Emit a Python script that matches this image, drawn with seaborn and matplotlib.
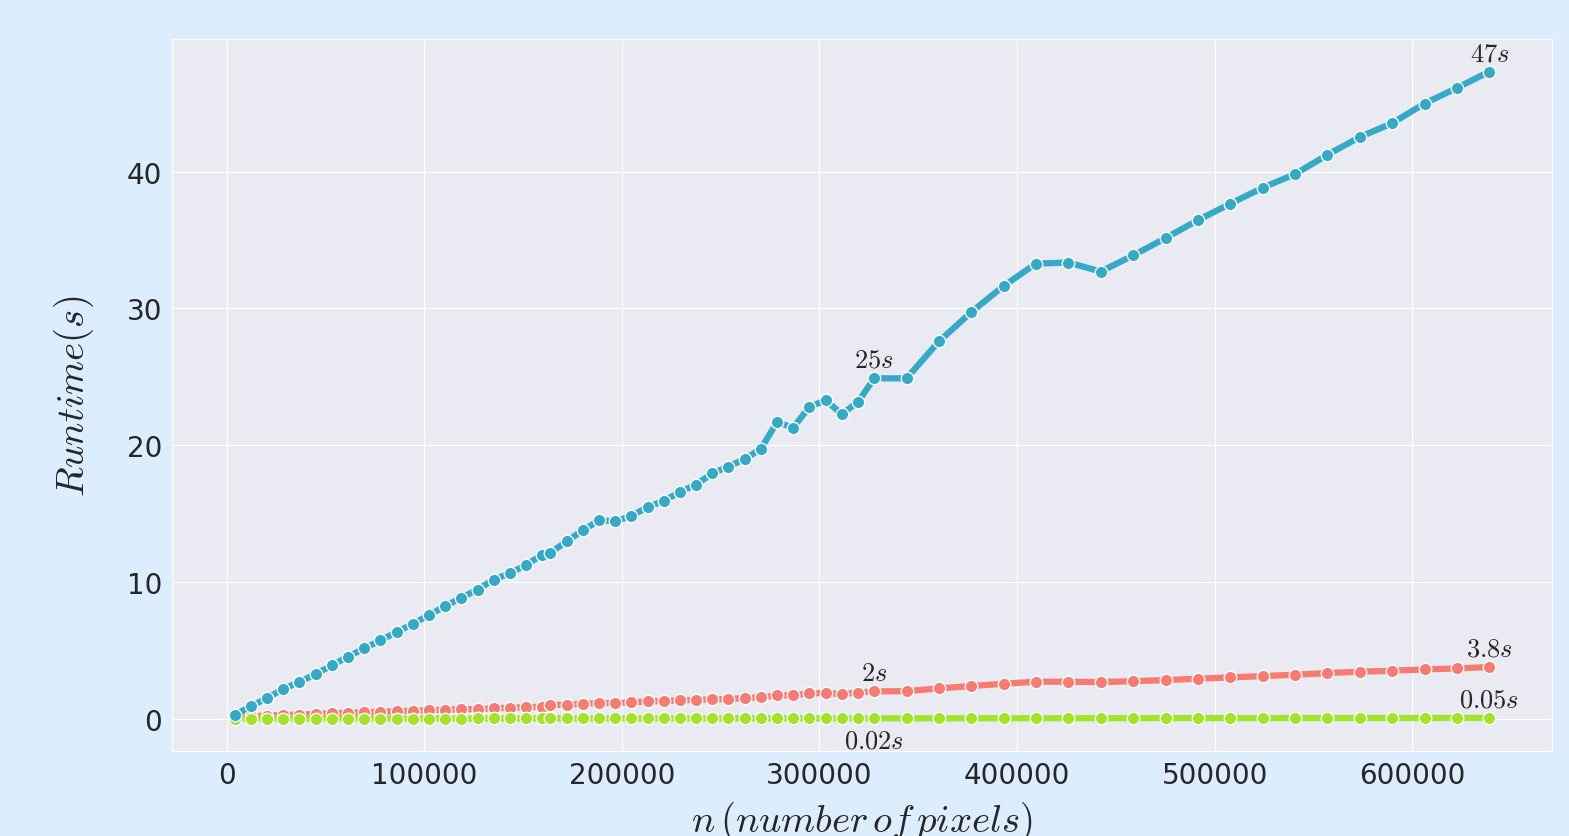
import matplotlib
matplotlib.use("Agg")
import matplotlib.pyplot as plt
import seaborn as sns

# Style
sns.set_style("darkgrid")
plt.rcParams['mathtext.fontset'] = 'cm'

# Colours
fig_bg = '#dcedfd'
blue = '#34aac8'
red = '#f87b72'
green = '#a3e42a'

# Data
n_pixels = [
    4096, 12288, 20480, 28672, 36864, 45056, 53248, 61440, 69632, 77824,
    86016, 94208, 102400, 110592, 118784, 126976, 135168, 143360, 151552, 159744,
    163840, 172032, 180224, 188416, 196608, 204800, 212992, 221184, 229376, 237568,
    245760, 253952, 262144, 270336, 278528, 286720, 294912, 303104, 311296, 319488,
    327680, 344064, 360448, 376832, 393216, 409600, 425984, 442368, 458752, 475136,
    491520, 507904, 524288, 540672, 557056, 573440, 589824, 606208, 622592, 638976,
]

runtime_blue = [
    0.27, 0.90, 1.50, 2.17, 2.68, 3.26, 3.89, 4.53, 5.13, 5.72,
    6.33, 6.93, 7.57, 8.23, 8.83, 9.44, 10.17, 10.63, 11.24, 11.99,
    12.13, 12.96, 13.77, 14.50, 14.43, 14.82, 15.47, 15.93, 16.57, 17.12,
    17.93, 18.44, 18.98, 19.73, 21.68, 21.28, 22.80, 23.28, 22.28, 23.15,
    24.89, 24.89, 27.59, 29.73, 31.65, 33.28, 33.36, 32.70, 33.88, 35.15,
    36.46, 37.66, 38.83, 39.83, 41.24, 42.54, 43.55, 44.99, 46.13, 47.33,
]

runtime_red = [
    0.12, 0.17, 0.22, 0.27, 0.29, 0.34, 0.39, 0.43, 0.46, 0.51,
    0.53, 0.58, 0.61, 0.65, 0.68, 0.70, 0.75, 0.80, 0.83, 0.88,
    0.99, 1.02, 1.07, 1.14, 1.14, 1.19, 1.26, 1.28, 1.34, 1.36,
    1.41, 1.43, 1.50, 1.55, 1.70, 1.70, 1.85, 1.87, 1.80, 1.90,
    1.99, 2.01, 2.21, 2.38, 2.55, 2.70, 2.70, 2.67, 2.74, 2.82,
    2.92, 3.01, 3.11, 3.21, 3.33, 3.43, 3.50, 3.60, 3.67, 3.77,
]

runtime_green = [
    0.000, 0.001, 0.001, 0.002, 0.002, 0.003, 0.003, 0.004, 0.004, 0.005,
    0.005, 0.006, 0.006, 0.007, 0.007, 0.008, 0.008, 0.009, 0.009, 0.010,
    0.010, 0.011, 0.011, 0.012, 0.012, 0.013, 0.013, 0.014, 0.014, 0.015,
    0.015, 0.016, 0.016, 0.017, 0.017, 0.018, 0.018, 0.019, 0.019, 0.020,
    0.020, 0.022, 0.023, 0.025, 0.026, 0.028, 0.029, 0.031, 0.032, 0.034,
    0.035, 0.037, 0.038, 0.040, 0.041, 0.043, 0.044, 0.046, 0.048, 0.050,
]

# Annotated points (middle and last sample of each series)
mid_idx = 40
last_idx = 59
labels_blue = [r'$25s$', r'$47s$']
labels_red = [r'$2s$', r'$3.8s$']
labels_green = [r'$0.02s$', r'$0.05s$']

fig, ax = plt.subplots(figsize=(15.69, 8.37), dpi=100)
fig.patch.set_facecolor(fig_bg)
fig.subplots_adjust(left=0.1096, right=0.9892, top=0.952, bottom=0.1016)

line_kw = dict(marker='o', linewidth=4.5, markersize=9,
               markeredgecolor='white', markeredgewidth=1.0, ax=ax)
sns.lineplot(x=n_pixels, y=runtime_red, color=red, **line_kw)
sns.lineplot(x=n_pixels, y=runtime_green, color=green, **line_kw)
sns.lineplot(x=n_pixels, y=runtime_blue, color=blue, **line_kw)

# Annotations
for series, labels, above in [(runtime_blue, labels_blue, [True, True]),
                              (runtime_red, labels_red, [True, True]),
                              (runtime_green, labels_green, [False, True])]:
    for idx, lab, up in zip([mid_idx, last_idx], labels, above):
        x, y = n_pixels[idx], series[idx]
        if up:
            ax.text(x, y + 0.4, lab, ha='center', va='bottom', fontsize=19)
        else:
            ax.text(x, y - 0.7, lab, ha='center', va='top', fontsize=19)

ax.set_xlabel(r'$n\,(number\,of\,pixels)$', fontsize=28, labelpad=7)
ax.set_ylabel(r'$Runtime(s)$', fontsize=28, labelpad=22)
ax.tick_params(axis='both', labelsize=20)
ax.set_yticks([0, 10, 20, 30, 40])

plt.savefig('out.png', dpi=100, facecolor=fig_bg)
plt.close()
